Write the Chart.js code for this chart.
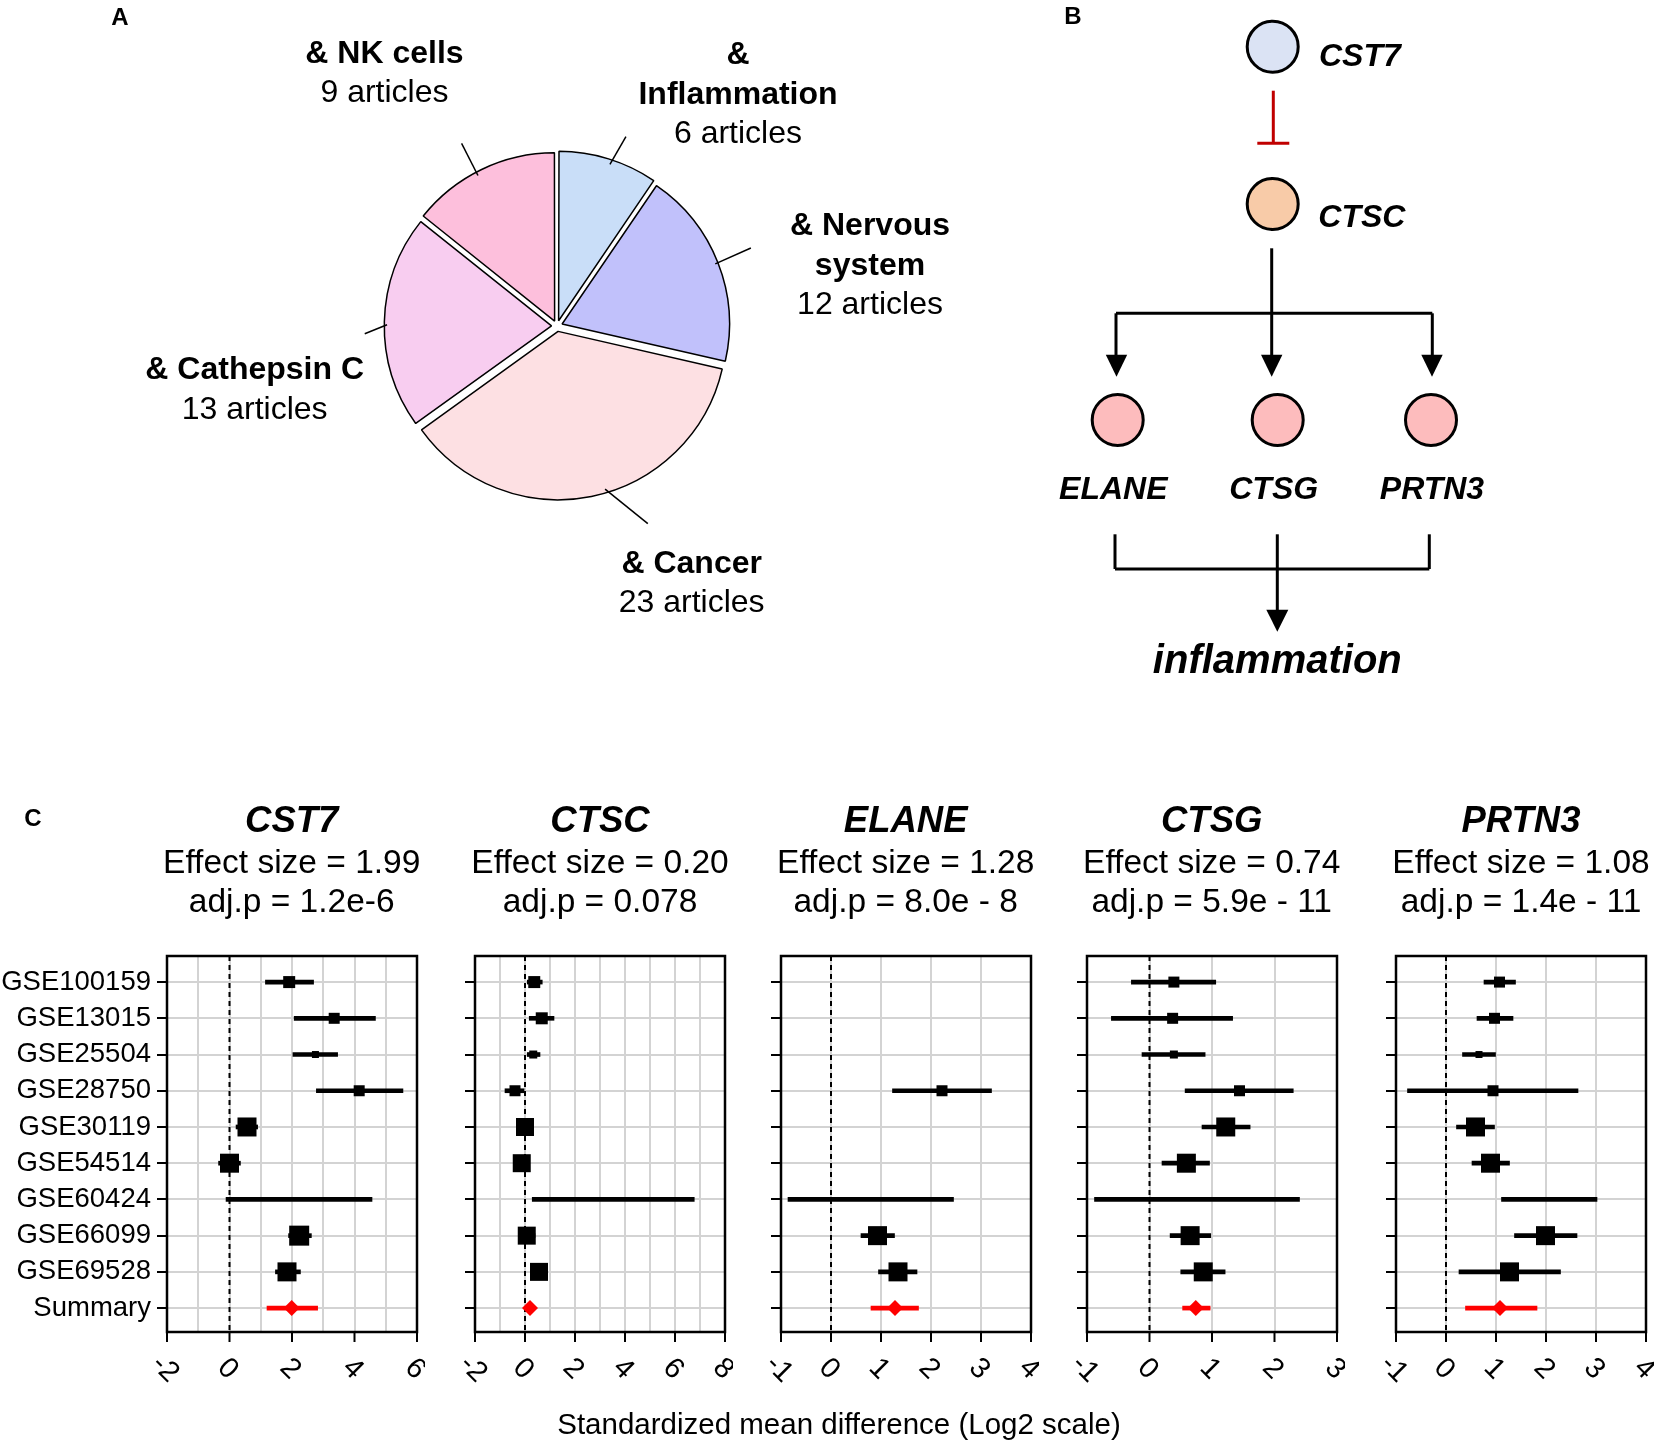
<!DOCTYPE html>
<html>
<head>
<meta charset="utf-8">
<title>CST7 / CTSC literature, pathway and meta-analysis</title>
<script src="https://cdn.jsdelivr.net/npm/chart.js@4.4.1/dist/chart.umd.min.js"></script>
<style>
  body { margin: 0; background: #fff; }
  #page { position: relative; width: 1654px; height: 1440px; overflow: hidden; background: #fff; }
  #overlay { position: absolute; left: 0; top: 0; pointer-events: none; }
</style>
</head>
<body>
<div id="page">
  <canvas id="pie" width="500" height="500" style="position:absolute;left:307px;top:76px;width:500px;height:500px"></canvas>
  <svg id="overlay" width="1654" height="1440" xmlns="http://www.w3.org/2000/svg"></svg>
</div>
<script>
// ---- Panel A data ----
const pieNames = ['Inflammation', 'Nervous system', 'Cancer', 'Cathepsin C', 'NK cells'];
const pieCounts = [6, 12, 23, 13, 9];
const pieColors = ['#c9def8', '#c1c1fb', '#fde0e3', '#f8cdf0', '#fdbfdc'];

// ---- Panel C data ----
const rowNames = ['GSE100159', 'GSE13015', 'GSE25504', 'GSE28750', 'GSE30119',
                  'GSE54514', 'GSE60424', 'GSE66099', 'GSE69528', 'Summary'];
const genes = ['CST7', 'CTSC', 'ELANE', 'CTSG', 'PRTN3'];
const effectSizes = ['1.99', '0.20', '1.28', '0.74', '1.08'];
const adjP = ['1.2e-6', '0.078', '8.0e - 8', '5.9e - 11', '1.4e - 11'];
const xMins = [-2, -2, -1, -1, -1];
const xMaxs = [6, 8, 4, 3, 4];
const xLabelSteps = [2, 2, 1, 1, 1];

// point estimate, lower / upper CI, relative study weight (last entry = summary)
const cst7Est = [1.91, 3.35, 2.75, 4.15, 0.56, 0.00, 2.22, 2.23, 1.84, 1.99];
const cst7Lo  = [1.15, 2.07, 2.03, 2.78, 0.21, -0.35, -0.11, 1.89, 1.47, 1.20];
const cst7Hi  = [2.69, 4.67, 3.46, 5.55, 0.90, 0.35, 4.56, 2.62, 2.27, 2.82];
const cst7Wt  = [0.6, 0.55, 0.35, 0.55, 0.95, 0.95, 0, 1.0, 0.95];

const ctscEst = [0.37, 0.67, 0.33, -0.40, 0.00, -0.13, 3.50, 0.07, 0.56, 0.20];
const ctscLo  = [0.09, 0.17, 0.09, -0.80, -0.30, -0.40, 0.29, -0.25, 0.25, 0.05];
const ctscHi  = [0.69, 1.16, 0.60, 0.00, 0.30, 0.15, 6.77, 0.40, 0.85, 0.35];
const ctscWt  = [0.6, 0.6, 0.4, 0.55, 0.9, 0.9, 0, 0.9, 0.9];

const elaneEst = [null, null, null, 2.22, null, null, 0.80, 0.93, 1.34, 1.28];
const elaneLo  = [null, null, null, 1.23, null, null, -0.86, 0.60, 0.95, 0.80];
const elaneHi  = [null, null, null, 3.21, null, null, 2.45, 1.27, 1.72, 1.75];
const elaneWt  = [0, 0, 0, 0.55, 0, 0, 0, 0.95, 0.95];

const ctsgEst = [0.39, 0.37, 0.39, 1.44, 1.22, 0.59, 0.76, 0.65, 0.86, 0.74];
const ctsgLo  = [-0.29, -0.61, -0.12, 0.57, 0.84, 0.20, -0.88, 0.33, 0.50, 0.53];
const ctsgHi  = [1.06, 1.33, 0.89, 2.30, 1.61, 0.96, 2.40, 0.98, 1.21, 0.97];
const ctsgWt  = [0.55, 0.55, 0.4, 0.55, 0.95, 0.95, 0, 0.95, 0.95];

const prtn3Est = [1.07, 0.97, 0.66, 0.94, 0.59, 0.89, 2.07, 1.99, 1.27, 1.08];
const prtn3Lo  = [0.76, 0.62, 0.33, -0.77, 0.21, 0.52, 1.11, 1.37, 0.26, 0.39];
const prtn3Hi  = [1.39, 1.34, 0.99, 2.64, 0.97, 1.27, 3.02, 2.62, 2.29, 1.82];
const prtn3Wt  = [0.55, 0.55, 0.35, 0.55, 0.95, 0.95, 0, 0.95, 0.95];

const allEst = [cst7Est, ctscEst, elaneEst, ctsgEst, prtn3Est];
const allLo = [cst7Lo, ctscLo, elaneLo, ctsgLo, prtn3Lo];
const allHi = [cst7Hi, ctscHi, elaneHi, ctsgHi, prtn3Hi];
const allWt = [cst7Wt, ctscWt, elaneWt, ctsgWt, prtn3Wt];

const FONT = '"Liberation Sans", Arial, Helvetica, sans-serif';

// ---- SVG helpers ----
const svgNS = 'http://www.w3.org/2000/svg';
const svg = document.getElementById('overlay');
function add(tag, attrs, txt) {
    const el = document.createElementNS(svgNS, tag);
    for (const k in attrs) el.setAttribute(k, attrs[k]);
    if (txt != null) el.textContent = txt;
    svg.appendChild(el);
    return el;
}
function label(x, y, str, size, opts) {
    opts = opts || {};
    return add('text', {
        x: x, y: y,
        'font-family': FONT,
        'font-size': size,
        'font-weight': opts.bold ? 'bold' : 'normal',
        'font-style': opts.italic ? 'italic' : 'normal',
        'text-anchor': opts.anchor || 'middle',
        fill: opts.fill || '#000'
    }, str);
}
const measureCtx = document.createElement('canvas').getContext('2d');
function wrap(str, font, maxWidth) {
    measureCtx.font = font;
    const words = str.split(' ');
    const lines = [];
    let cur = '';
    words.forEach(w => {
        const test = cur ? cur + ' ' + w : w;
        if (cur && measureCtx.measureText(test).width > maxWidth) {
            lines.push(cur);
            cur = w;
        } else {
            cur = test;
        }
    });
    lines.push(cur);
    return lines;
}

// ---- Panel letters ----
label(120, 25, 'A', 24, {bold: true});
label(1073, 24, 'B', 24, {bold: true});
label(33, 826, 'C', 24, {bold: true});

// ---- Panel A: pie ----
// leader lines: start shift from slice middle (deg), direction (deg clockwise from top), length
const leaderShift = [1, 0, -5, -1, -2];
const leaderDir = [30, 66, 129, 248, 333];
const leaderLen = [32, 39, 55, 24, 36];

const leaderPlugin = {
    id: 'leaders',
    afterDatasetsDraw(chart) {
        const ctx = chart.ctx;
        const meta = chart.getDatasetMeta(0);
        ctx.save();
        ctx.strokeStyle = '#000';
        ctx.lineWidth = 1.5;
        meta.data.forEach((arc, i) => {
            const p = arc.getProps(['x', 'y', 'startAngle', 'endAngle', 'outerRadius'], true);
            const a = (p.startAngle + p.endAngle) / 2 + leaderShift[i] * Math.PI / 180;
            const r = p.outerRadius + 3;
            const x1 = p.x + Math.cos(a) * r, y1 = p.y + Math.sin(a) * r;
            const d = leaderDir[i] * Math.PI / 180;
            ctx.beginPath();
            ctx.moveTo(x1, y1);
            ctx.lineTo(x1 + Math.sin(d) * leaderLen[i], y1 - Math.cos(d) * leaderLen[i]);
            ctx.stroke();
        });
        ctx.restore();
    }
};

new Chart(document.getElementById('pie'), {
    type: 'pie',
    data: {
        labels: pieNames,
        datasets: [{
            data: pieCounts,
            backgroundColor: pieColors,
            borderColor: '#000',
            borderWidth: 1.5,
            offset: 22,
            radius: 167
        }]
    },
    options: {
        responsive: false,
        animation: false,
        events: [],
        layout: { padding: 0 },
        plugins: { legend: { display: false }, tooltip: { enabled: false } }
    },
    plugins: [leaderPlugin]
});

// pie labels: [center x, first baseline, wrap width]
const pieLabelPos = [[738, 64, 200], [870, 235, 180], [691.7, 572.7, 400], [254.7, 379.3, 400], [384.5, 62.7, 400]];
pieNames.forEach((name, i) => {
    const [x, y, maxW] = pieLabelPos[i];
    const lines = wrap('& ' + name, 'bold 32px ' + FONT, maxW);
    lines.forEach((ln, k) => label(x, y + k * 39.5, ln, 32, {bold: true}));
    label(x, y + lines.length * 39.5, pieCounts[i] + ' articles', 32);
});

// ---- Panel B: pathway diagram ----
function line(x1, y1, x2, y2, col) {
    add('line', {x1, y1, x2, y2, stroke: col || '#000', 'stroke-width': 3});
}
function arrowHead(x, tipY, h, hw) {
    add('polygon', {points: `${x - hw},${tipY - h} ${x + hw},${tipY - h} ${x},${tipY}`, fill: '#000'});
}
function node(cx, cy, fill) {
    add('circle', {cx, cy, r: 25.5, fill, stroke: '#000', 'stroke-width': 3});
}
node(1272.7, 46.7, '#dbe3f4');
label(1319, 66, 'CST7', 32, {bold: true, italic: true, anchor: 'start'});
line(1273.3, 90.7, 1273.3, 143.3, '#c00000');
line(1257.3, 143.3, 1289.3, 143.3, '#c00000');
node(1272.7, 204, '#f8cba8');
label(1318.3, 226.7, 'CTSC', 32, {bold: true, italic: true, anchor: 'start'});

line(1271.7, 248.3, 1271.7, 358);
line(1116, 313.3, 1432.3, 313.3);
line(1116, 313.3, 1116, 358);
line(1432.3, 313.3, 1432.3, 358);
arrowHead(1116.5, 376.7, 22, 10.7);
arrowHead(1271.7, 376.7, 22, 10.7);
arrowHead(1432, 376.7, 22, 10.7);

const targetX = [1117.7, 1277.7, 1431];
const targetLabelX = [1113.3, 1273.7, 1432];
['ELANE', 'CTSG', 'PRTN3'].forEach((g, i) => {
    node(targetX[i], 420, '#fdbcbd');
    label(targetLabelX[i], 499.3, g, 32, {bold: true, italic: true});
});
line(1115, 534.3, 1115, 569);
line(1429.3, 534.3, 1429.3, 569);
line(1115, 569, 1429.3, 569);
line(1277.3, 534.3, 1277.3, 612);
arrowHead(1277.3, 631.7, 22, 11);
label(1277.3, 672.7, 'inflammation', 40, {bold: true, italic: true});

// ---- Panel C: forest plots ----
const boxLefts = [166.7, 475, 780.7, 1086.7, 1396];
const BOX_TOP = 956, BOX_W = 250, BOX_H = 376, PAD_TOP = 24, AXIS_H = 70;
const Y_MIN = -0.72, Y_MAX = 9.66;
const SQUARE_MAX = 20;
const page = document.getElementById('page');

genes.forEach((gene, gi) => {
    const est = allEst[gi], lo = allLo[gi], hi = allHi[gi], wt = allWt[gi];
    const axisW = gi === 0 ? 167 : 40;
    const w = axisW + BOX_W + 8;
    const h = PAD_TOP + BOX_H + AXIS_H;
    const canvas = document.createElement('canvas');
    canvas.width = w;
    canvas.height = h;
    canvas.style.cssText = `position:absolute;left:${boxLefts[gi] - axisW}px;top:${BOX_TOP - PAD_TOP}px;width:${w}px;height:${h}px`;
    page.insertBefore(canvas, svg);

    const squares = [], squareR = [], ciBars = [];
    for (let i = 0; i < 9; i++) {
        if (est[i] === null) continue;
        squares.push({x: est[i], y: i});
        squareR.push(SQUARE_MAX * wt[i] / (2 * Math.SQRT1_2));
        ciBars.push({x: [lo[i], hi[i]], y: i});
    }

    const step = xLabelSteps[gi];
    const decor = {
        id: 'decor' + gi,
        afterDraw(chart) {
            const {ctx, chartArea: a} = chart;
            const xs = chart.scales.x;
            ctx.save();
            ctx.strokeStyle = '#000';
            ctx.lineWidth = 2.5;
            ctx.strokeRect(a.left, a.top, a.right - a.left, a.bottom - a.top);
            ctx.lineWidth = 2;
            ctx.fillStyle = '#000';
            ctx.font = '29px ' + FONT;
            ctx.textAlign = 'center';
            ctx.textBaseline = 'middle';
            for (let v = xMins[gi]; v <= xMaxs[gi]; v += step) {
                const px = xs.getPixelForValue(v);
                ctx.beginPath();
                ctx.moveTo(px, a.bottom);
                ctx.lineTo(px, a.bottom + 10);
                ctx.stroke();
                ctx.save();
                ctx.translate(px - 2, a.bottom + 37);
                ctx.rotate(Math.PI / 4);
                ctx.fillText(String(v), 0, 0);
                ctx.restore();
            }
            ctx.restore();
        }
    };

    new Chart(canvas, {
        type: 'scatter',
        data: {
            datasets: [
                {
                    data: squares,
                    pointStyle: 'rect',
                    pointRadius: squareR,
                    backgroundColor: '#000',
                    borderWidth: 0
                },
                {
                    data: [{x: est[9], y: 9}],
                    pointStyle: 'rectRot',
                    pointRadius: 8,
                    backgroundColor: '#ff0000',
                    borderWidth: 0
                },
                {
                    type: 'bar',
                    indexAxis: 'y',
                    data: ciBars,
                    backgroundColor: '#000',
                    barThickness: 4,
                    grouped: false,
                    borderSkipped: false,
                    borderWidth: 0
                },
                {
                    type: 'bar',
                    indexAxis: 'y',
                    data: [{x: [lo[9], hi[9]], y: 9}],
                    backgroundColor: '#ff0000',
                    barThickness: 4,
                    grouped: false,
                    borderSkipped: false,
                    borderWidth: 0
                },
                {
                    type: 'line',
                    data: [{x: 0, y: Y_MIN}, {x: 0, y: Y_MAX}],
                    borderColor: '#000',
                    borderWidth: 2,
                    borderDash: [5, 4],
                    pointRadius: 0
                }
            ]
        },
        options: {
            responsive: false,
            animation: false,
            events: [],
            layout: { autoPadding: false, padding: { top: PAD_TOP, right: 8, left: 0, bottom: 0 } },
            plugins: { legend: { display: false }, tooltip: { enabled: false } },
            scales: {
                x: {
                    type: 'linear',
                    offset: false,
                    min: xMins[gi],
                    max: xMaxs[gi],
                    ticks: { stepSize: 1, display: false },
                    grid: { offset: false, color: '#d3d3d3', lineWidth: 2, drawTicks: false },
                    border: { display: false },
                    afterFit(s) { s.height = AXIS_H; }
                },
                y: {
                    type: 'linear',
                    offset: false,
                    reverse: true,
                    min: Y_MIN,
                    max: Y_MAX,
                    ticks: {
                        stepSize: 1,
                        includeBounds: false,
                        autoSkip: false,
                        display: gi === 0,
                        padding: 6,
                        color: '#000',
                        font: { size: 27.5, family: FONT },
                        callback: v => rowNames[v]
                    },
                    grid: { offset: false, color: '#d3d3d3', lineWidth: 2, tickColor: '#000', tickLength: 10, tickWidth: 2 },
                    border: { display: false },
                    afterFit(s) { s.width = axisW; }
                }
            }
        },
        plugins: [decor]
    });

    const cx = boxLefts[gi] + BOX_W / 2;
    label(cx, 831.7, gene, 36.5, {bold: true, italic: true});
    label(cx, 873, 'Effect size = ' + effectSizes[gi], 33.5);
    label(cx, 912, 'adj.p = ' + adjP[gi], 33.5);
});

label(839, 1434, 'Standardized mean difference (Log2 scale)', 29.5);
</script>
</body>
</html>
